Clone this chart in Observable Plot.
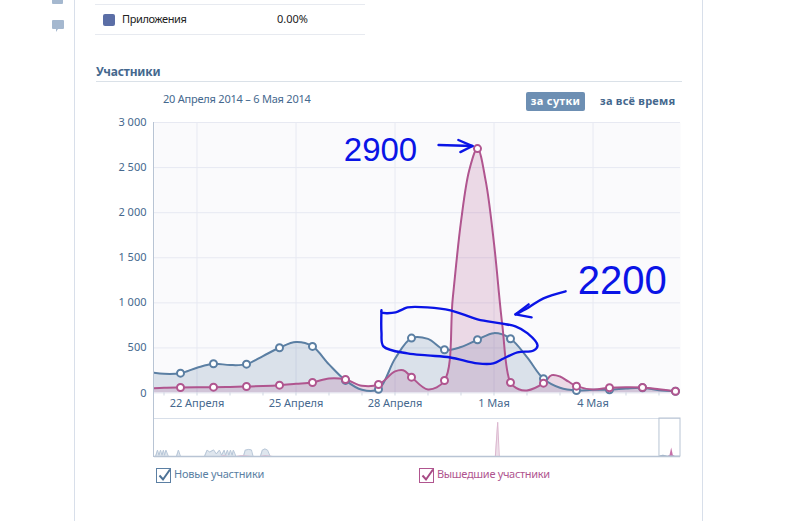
<!DOCTYPE html>
<html lang="ru">
<head>
<meta charset="utf-8">
<script src="https://cdn.jsdelivr.net/npm/d3@7"></script>
<script src="https://cdn.jsdelivr.net/npm/@observablehq/plot@0.6"></script>
<style>
  html,body{margin:0;padding:0;background:#fff;width:810px;height:521px;overflow:hidden;font-family:"Noto Sans",Tahoma,sans-serif;font-size:11px;color:#45688e}
  .a{position:absolute;white-space:nowrap;line-height:14px}
  .l{position:absolute}
  svg{overflow:visible}
</style>
</head>
<body>
<div class="l" style="left:74px;top:0;width:1px;height:521px;background:#d8dfea"></div>
<div class="l" style="left:702px;top:0;width:1px;height:521px;background:#d8dfea"></div>
<svg class="l" style="left:50px;top:0" width="16" height="36" viewBox="0 0 16 36">
  <rect x="2" y="-4" width="11" height="8" rx="1" fill="#a5b8cf"/>
  <path d="M3 20h10a1 1 0 0 1 1 1v7a1 1 0 0 1-1 1H8l-2 3v-3H3a1 1 0 0 1-1-1v-7a1 1 0 0 1 1-1z" fill="#a5b8cf"/>
</svg>
<div class="l" style="left:95px;top:4px;width:270px;height:1px;background:#e7eaf0"></div>
<div class="l" style="left:95px;top:34px;width:270px;height:1px;background:#e7eaf0"></div>
<div class="l" style="left:103px;top:14px;width:12px;height:12px;border-radius:2px;background:#5b6ea6"></div>
<div class="a" style="left:122px;top:12px;color:#222;letter-spacing:-0.4px">Приложения</div>
<div class="a" style="left:277px;top:12px;color:#222">0.00%</div>
<div class="a" style="left:96px;top:65px;font-weight:700;font-size:12px;letter-spacing:-0.2px">Участники</div>
<div class="l" style="left:96px;top:81px;width:586px;height:1px;background:#dae1e8"></div>
<div class="a" style="left:163px;top:92px;letter-spacing:-0.22px">20 Апреля 2014 – 6 Мая 2014</div>
<div class="l" style="left:526px;top:92px;width:59px;height:19px;border-radius:2px;background:#6d8fb3"></div>
<div class="a" style="left:526px;top:94px;width:59px;text-align:center;color:#fff;font-weight:700;letter-spacing:0.35px">за сутки</div>
<div class="a" style="left:600px;top:94px;font-weight:700;letter-spacing:0.25px">за всё время</div>
<div id="main" class="l" style="left:0;top:0"></div>
<div id="nav" class="l" style="left:154px;top:417px"></div>
<div class="l" style="left:153px;top:122px;width:1px;height:335px;background:#b8c4d4"></div>
<svg class="l" style="left:156px;top:467px" width="17" height="17" viewBox="0 0 17 17">
  <rect x="0.5" y="1.5" width="14" height="14" fill="none" stroke="#5b7fa3" stroke-width="1"/>
  <path d="M3.5 8.5l3.5 4 7-10" fill="none" stroke="#4d7296" stroke-width="2"/>
</svg>
<div class="a" style="left:174px;top:467px;color:#5b7fa3;letter-spacing:-0.2px">Новые участники</div>
<svg class="l" style="left:419px;top:467px" width="17" height="17" viewBox="0 0 17 17">
  <rect x="0.5" y="1.5" width="14" height="14" fill="none" stroke="#b0558f" stroke-width="1"/>
  <path d="M3.5 8.5l3.5 4 7-10" fill="none" stroke="#a84c86" stroke-width="2"/>
</svg>
<div class="a" style="left:437px;top:467px;color:#b0558f;letter-spacing:-0.32px">Вышедшие участники</div>
<script>
// Days are counted on the April calendar: 31 = 1 May, 34 = 4 May.
const days = [21.5,22.5,23.5,24.5,25.5,26.5,27.5,28.5,29.5,30.5,31.5,32.5,33.5,34.5,35.5,36.5];
const newMembers  = [220,324,320,502,517,140,42,609,480,591,602,158,28,36,58,20];
const leftMembers = [61,65,72,87,117,150,94,176,139,2711,117,109,76,58,61,20];

// The curves, between the daily points.
const newTraceDays = [20.5,21,21.5,22,22.5,23,23.5,24,24.5,25,25.5,26,26.5,27,27.5,28,28.5,29,29.5,30,30.5,31,31.5,32,32.5,33,33.5,34,34.5,35,35.5,36,36.5];
const newTrace     = [235,213,220,280,324,310,320,410,502,565,517,317,140,35,42,380,609,600,480,510,591,664,602,398,158,58,28,36,36,50,58,30,20];
const leftTraceDays = [20.5,21,21.5,22,22.5,23,23.5,24,24.5,25,25.5,26,26.5,27,27.5,28,28.25,28.5,29,29.5,29.75,30,30.25,30.5,30.75,31,31.25,31.5,31.75,32,32.5,32.75,33,33.25,33.5,34,34.5,35,35.5,36,36.5];
const leftTrace     = [50,58,61,63,65,67,72,78,87,102,117,161,150,80,94,239,253,176,39,139,1050,1900,2470,2711,2350,1660,760,117,42,28,109,198,183,128,76,39,58,64,61,42,20];

const xDomain = [20.712,36.652];
const yDomain = [0,3000];
const yTicks = [0,500,1000,1500,2000,2500,3000];
const allDays = [21,22,23,24,25,26,27,28,29,30,31,32,33,34,35,36];
const labelDays = [22,25,28,31,34];
const labelTexts = ["22 Апреля","25 Апреля","28 Апреля","1 Мая","4 Мая"];

// Hand-drawn annotations, in chart units.
const inkRing = [[27.59,917],[27.59,894],[28.02,894],[28.23,928],[28.38,950],[28.98,950],[29.68,917],[30.5,817],[31.2,772],[31.65,739],[32.02,661],[32.32,528],[32.2,472],[31.71,450],[31.29,383],[30.98,328],[30.5,328],[29.68,394],[28.98,417],[28.38,439],[27.65,517],[27.59,672],[27.59,917]];
const inkArrowA = [[33.17,1128],[32.5,1050],[32.05,950],[31.65,872]];
const inkHeadA  = [[32.05,983],[31.65,872],[32.14,839]];
const inkArrowB = [[29.32,2750],[30.35,2739]];
const inkHeadB  = [[29.92,2806],[30.35,2739],[29.98,2672]];
const inkNotes  = [{d:27.56,v:2694,t:"2900",s:33,ls:"5px"},{d:34.89,v:1239,t:"2200",s:40,ls:"5px"}];

// Overview strip: day within the whole period, and value.
const navNewDays = [0.8,2.3,3.4,4.6,5.7,6.8,7.6,8.7,10.6,16.7,18.2,19.8,38,40,42,45,47,49.4,51,53,54,55.5,56.5,57.8,59,60,62,67.6,69,71.5,73.7,75,80.5,82,84,86,88];
const navNew     = [0,500,100,500,100,500,100,500,0,0,500,0,0,500,350,520,200,500,100,500,100,500,100,500,100,500,0,0,500,560,520,0,0,500,600,500,0];
const navLeftDays = [50,53,56,62,66,70,74,80,84,90,259.2,261,262.2];
const navLeft     = [0,60,0,0,60,40,0,0,60,0,0,2700,0];
const navWinDays = [384,385,387,389,390.5,392,393.3,394.6,396];
const navWinNew  = [0,60,100,60,0,60,100,60,0];
const navWinLeft = [0,0,0,0,0,60,670,60,0];

const COL_NEW = "#5b7fa3", COL_LEFT = "#b0558f", INK = "#0a14e6", FONT = '"Noto Sans",Tahoma,sans-serif';
const newTraceRows = newTraceDays.map((d,i)=>({d,v:newTrace[i]}));
const leftTraceRows = leftTraceDays.map((d,i)=>({d,v:leftTrace[i]}));
const fmt = v => String(v).replace(/\B(?=(\d{3})+$)/g," ");
const curve = "catmull-rom";
const ink = {stroke:INK,strokeWidth:2.4,curve:"catmull-rom",x:"0",y:"1",clip:false};

const main = Plot.plot({
  width:810,height:521,
  marginLeft:154,marginRight:130,marginTop:122,marginBottom:128.5,
  style:{fontFamily:FONT,fontSize:"11px",background:"transparent",color:"#45688e"},
  x:{type:"linear",domain:xDomain},
  y:{domain:yDomain},
  marks:[
    Plot.frame({fill:"#fafafc",stroke:null}),
    Plot.ruleY(yTicks,{stroke:"#e7e9f2",strokeWidth:1}),
    Plot.ruleX(labelDays,{stroke:"#e7e9f2",strokeWidth:1}),
    Plot.axisY({ticks:yTicks,tickFormat:fmt,tickSize:0,tickPadding:8,label:null,fill:"#45688e",stroke:"none"}),
    Plot.axisX({ticks:allDays,tickSize:3,tickPadding:3,label:null,fill:"#45688e",stroke:"#cfd6e2",
      tickFormat:d=>{const i=labelDays.indexOf(d);return i<0?"":labelTexts[i];}}),
    Plot.areaY(newTraceRows,{x:"d",y:"v",fill:COL_NEW,fillOpacity:0.2,curve,clip:true}),
    Plot.areaY(leftTraceRows,{x:"d",y:"v",fill:COL_LEFT,fillOpacity:0.2,curve,clip:true}),
    Plot.lineY(newTraceRows,{x:"d",y:"v",stroke:COL_NEW,strokeWidth:2,curve,clip:true}),
    Plot.lineY(leftTraceRows,{x:"d",y:"v",stroke:COL_LEFT,strokeWidth:2,curve,clip:true}),
    Plot.dot(days.map((d,i)=>({d,v:newMembers[i]})),{x:"d",y:"v",r:3.5,fill:"#fff",stroke:COL_NEW,strokeWidth:2}),
    Plot.dot(days.map((d,i)=>({d,v:leftMembers[i]})),{x:"d",y:"v",r:3.5,fill:"#fff",stroke:COL_LEFT,strokeWidth:2}),
    Plot.line(inkRing,ink),
    Plot.line(inkArrowA,ink),
    Plot.line(inkHeadA,{...ink,curve:"linear"}),
    Plot.line(inkArrowB,ink),
    Plot.line(inkHeadB,{...ink,curve:"linear"}),
    Plot.text(inkNotes.slice(0,1),{x:"d",y:"v",text:"t",fontSize:"s",fill:INK,fontFamily:"Liberation Sans",letterSpacing:"5px"}),
    Plot.text(inkNotes.slice(1),{x:"d",y:"v",text:"t",fontSize:"s",fill:INK,fontFamily:"Liberation Sans",letterSpacing:"5px"})
  ]
});
document.getElementById("main").appendChild(main);

const nav = Plot.plot({
  width:526,height:39,margin:0,marginTop:1,
  style:{background:"transparent"},
  x:{type:"linear",domain:[0,400],axis:null},
  y:{domain:[0,3000],axis:null},
  marks:[
    Plot.ruleY([3000],{stroke:"#d8dfe9",strokeWidth:1}),
    Plot.areaY(navNewDays.map((d,i)=>({d,v:navNew[i]})),{x:"d",y:"v",fill:"#dfe6ee"}),
    Plot.lineY(navNewDays.map((d,i)=>({d,v:navNew[i]})),{x:"d",y:"v",stroke:"#b8c7d8",strokeWidth:1}),
    Plot.areaY(navLeftDays.map((d,i)=>({d,v:navLeft[i]})),{x:"d",y:"v",fill:"#eedfe9"}),
    Plot.lineY(navLeftDays.map((d,i)=>({d,v:navLeft[i]})),{x:"d",y:"v",stroke:"#dcb7cf",strokeWidth:1}),
    Plot.areaY(navWinDays.map((d,i)=>({d,v:navWinNew[i]})),{x:"d",y:"v",fill:COL_NEW,fillOpacity:0.7}),
    Plot.areaY(navWinDays.map((d,i)=>({d,v:navWinLeft[i]})),{x:"d",y:"v",fill:"#c160a0",fillOpacity:0.9}),
    Plot.rect([{a:384,b:400}],{x1:"a",x2:"b",y1:0,y2:3000,stroke:"#b8c4d4",strokeWidth:1,fill:"none"}),
    Plot.ruleY([0],{stroke:"#b8c4d4",strokeWidth:1.5})
  ]
});
document.getElementById("nav").appendChild(nav);
</script>
</body>
</html>
